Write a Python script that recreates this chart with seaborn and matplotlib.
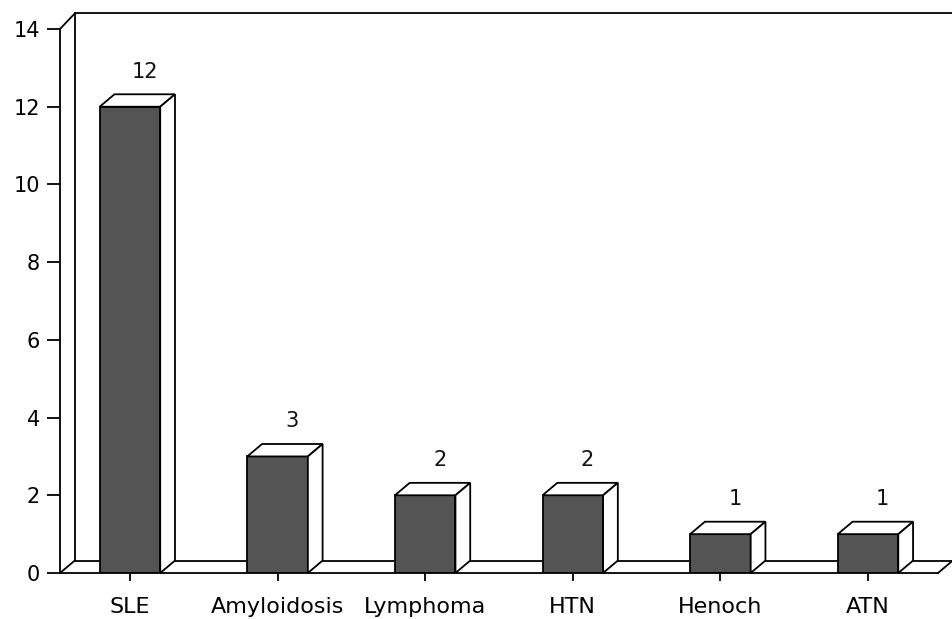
import matplotlib
matplotlib.use('Agg')
import matplotlib.pyplot as plt
import seaborn as sns
from matplotlib.patches import Polygon

# Values
categories = ['SLE', 'Amyloidosis', 'Lymphoma', 'HTN', 'Henoch', 'ATN']
counts = [12, 3, 2, 2, 1, 1]
y_ticks = [0, 2, 4, 6, 8, 10, 12, 14]

sns.set_style('white')
plt.rcParams['font.family'] = ['DejaVu Sans']

fig = plt.figure(figsize=(9.52, 6.19), dpi=100)
ax = fig.add_axes([60 / 952, 46 / 619, 878 / 952, 544 / 619])

# front faces of the bars
sns.barplot(x=categories, y=counts, color='#545454', saturation=1,
            width=0.41, edgecolor='black', linewidth=1.3, ax=ax, zorder=3)

x0, x1 = -0.474, 5.474
ax.set_xlim(x0, x1)
ax.set_ylim(0, 14)

# depth of the fake 3D effect, in data units
DX, DY = 0.1, 0.32
WALL_DY = 0.4
line_kw = dict(color='black', lw=1.3, clip_on=False, zorder=1)

# back wall and floor
ax.plot([x0, x0 + DX], [14, 14 + WALL_DY], **line_kw)
ax.plot([x0 + DX, x0 + DX], [DY, 14 + WALL_DY], **line_kw)
ax.plot([x0 + DX, x1 + 0.2], [14 + WALL_DY, 14 + WALL_DY], **line_kw)
ax.plot([x0, x0 + DX], [0, DY], **line_kw)
ax.plot([x0 + DX, x1 + DX], [DY, DY], **line_kw)
ax.plot([x1, x1 + DX], [0, DY], **line_kw)

# top and side faces for each bar
for bar, val in zip(ax.patches, counts):
    left = bar.get_x()
    right = left + bar.get_width()
    top = bar.get_height()
    top_face = Polygon([(left, top), (left + DX, top + DY), (right + DX, top + DY), (right, top)],
                       closed=True, facecolor='white', edgecolor='black', lw=1.3, zorder=4,
                       clip_on=False)
    side_face = Polygon([(right, 0), (right + DX, DY), (right + DX, top + DY), (right, top)],
                        closed=True, facecolor='white', edgecolor='black', lw=1.3, zorder=4,
                        clip_on=False)
    ax.add_patch(top_face)
    ax.add_patch(side_face)
    ax.annotate(str(val), (left + bar.get_width() / 2 + DX, top + DY),
                xytext=(0, 9), textcoords='offset points', ha='center', va='bottom',
                fontsize=15, color='#111111')

for side in ['top', 'right']:
    ax.spines[side].set_visible(False)
for side in ['left', 'bottom']:
    ax.spines[side].set_linewidth(1.3)
    ax.spines[side].set_color('black')
    ax.spines[side].set_zorder(5)

ax.set_yticks(y_ticks)
ax.tick_params(axis='y', direction='out', length=9.5, width=1.3, labelsize=15,
               colors='black', pad=5, left=True)
ax.tick_params(axis='x', direction='out', length=6, width=1.3, labelsize=16,
               colors='black', pad=11, bottom=True)
ax.set_xlabel('')
ax.set_ylabel('')

fig.savefig('out.png', dpi=100, facecolor='white')
